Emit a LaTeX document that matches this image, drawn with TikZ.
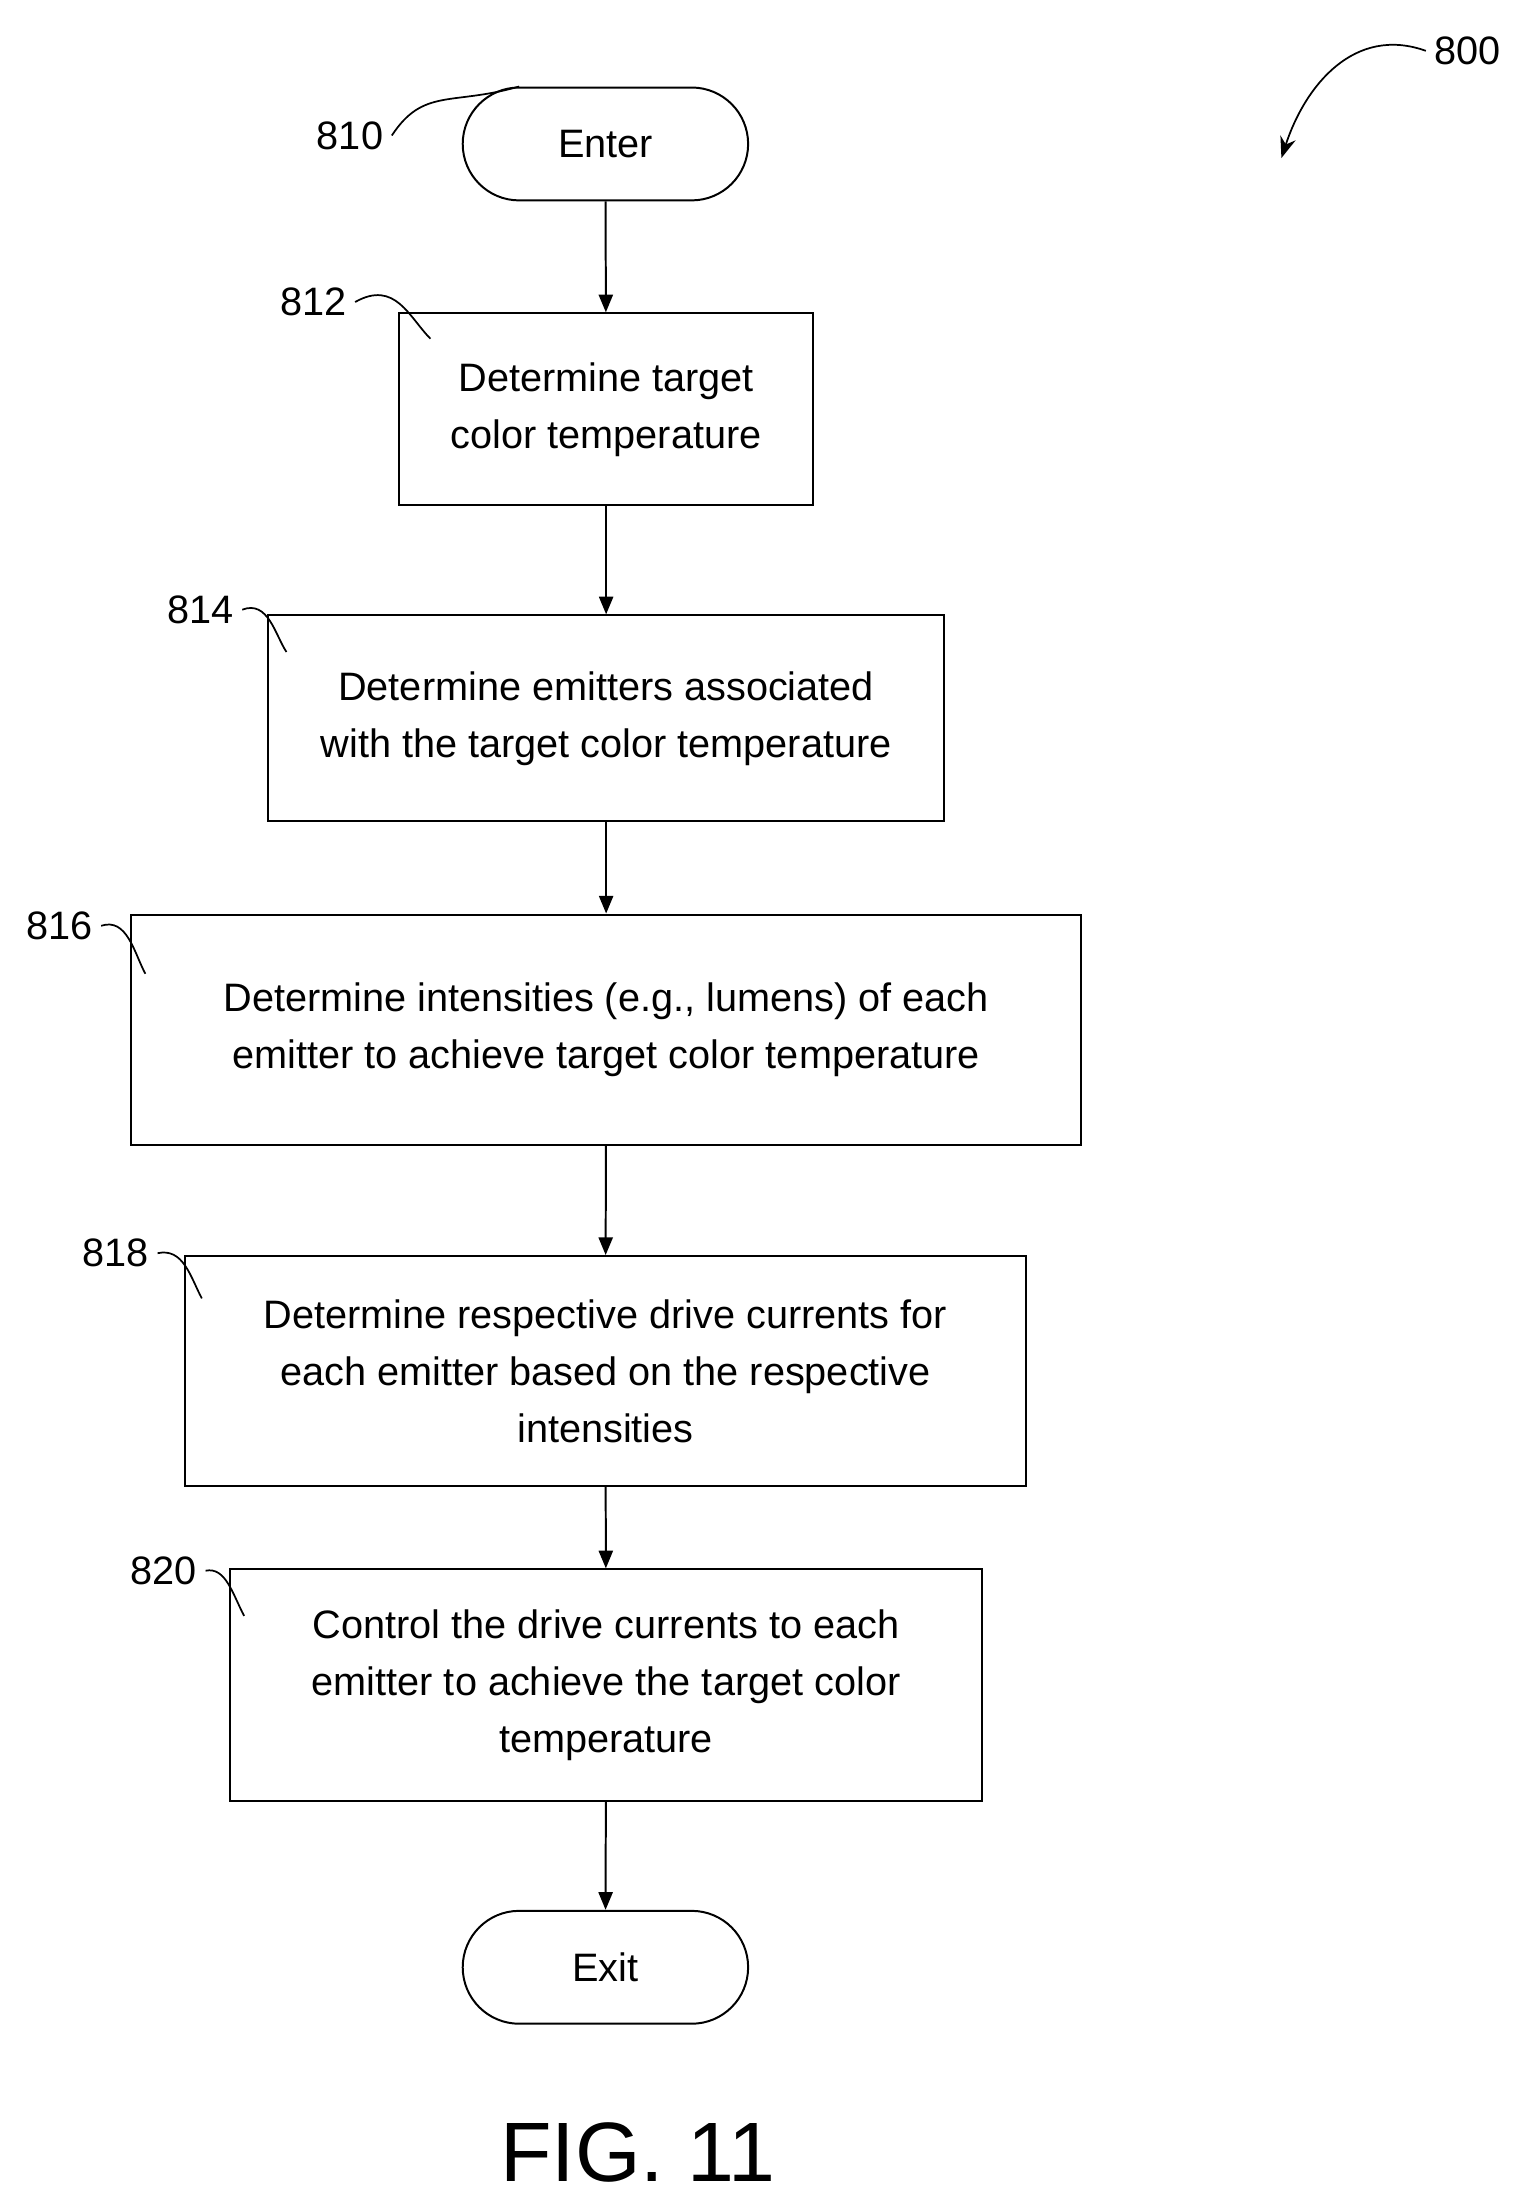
\documentclass[tikz,border=0pt]{standalone}
\usepackage{fontspec}
\setmainfont{Liberation Sans}
\usetikzlibrary{shapes.misc, arrows.meta, positioning}
\tikzset{
  stepbox/.style={rectangle, draw, line width=0.8pt, align=center, inner sep=0pt, font=\fontsize{16}{23}\selectfont},
  termbox/.style={rounded rectangle, draw, line width=0.8pt, minimum width=4.28cm, minimum height=1.6cm, font=\fontsize{16}{20}\selectfont},
  refnum/.style={font=\fontsize{16}{20}\selectfont},
  arr/.style={-{Triangle[length=2.5mm, width=2mm]}, line width=0.8pt},
  lead/.style={line width=0.7pt},
}
\begin{document}
\begin{tikzpicture}[x=0.02cm, y=-0.02cm]
  \useasboundingbox (0,0) rectangle (1080,1566);
  % Terminals and steps
  \node[termbox] (enter) at (429,102) {Enter};
  \node[stepbox, minimum width=5.86cm, minimum height=2.72cm] (s812) at (429.5,290) {Determine target\\color temperature};
  \node[stepbox, minimum width=9.58cm, minimum height=2.92cm] (s814) at (429.5,509) {Determine emitters associated\\with the target color temperature};
  \node[stepbox, minimum width=13.46cm, minimum height=3.26cm] (s816) at (429.5,729.5) {Determine intensities (e.g., lumens) of each\\emitter to achieve target color temperature};
  \node[stepbox, minimum width=11.92cm, minimum height=3.26cm] (s818) at (429,971.5) {Determine respective drive currents for\\each emitter based on the respective\\intensities};
  \node[stepbox, minimum width=10.66cm, minimum height=3.28cm] (s820) at (429.5,1194) {Control the drive currents to each\\emitter to achieve the target color\\temperature};
  \node[termbox] (exit) at (429,1394) {Exit};

  % Flow
  \draw[arr] (enter) -- (s812);
  \draw[arr] (s812) -- (s814);
  \draw[arr] (s814) -- (s816);
  \draw[arr] (s816) -- (s818);
  \draw[arr] (s818) -- (s820);
  \draw[arr] (s820) -- (exit);

  % Reference numerals
  \node[refnum] (r810) at (248,96) {810};
  \node[refnum] (r812) at (222,214) {812};
  \node[refnum] (r814) at (142,432) {814};
  \node[refnum] (r816) at (42,656) {816};
  \node[refnum] (r818) at (82,888) {818};
  \node[refnum] (r820) at (116,1113) {820};
  \node[refnum] (r800) at (1040,36) {800};

  \draw[lead] (r810.east) .. controls (300,62) and (320,75) .. (enter.north west);
  \draw[lead] (r812.east) .. controls (280,198) and (290,225) .. (305,240);
  \draw[lead] (r814.east) .. controls (190,425) and (195,450) .. (203,462);
  \draw[lead] (r816.east) .. controls (90,650) and (95,675) .. (103,690);
  \draw[lead] (r818.east) .. controls (130,884) and (135,905) .. (143,920);
  \draw[lead] (r820.east) .. controls (160,1110) and (165,1130) .. (173,1145);
  \draw[-{Stealth[length=3mm]}, lead] (r800.west) .. controls (960,18) and (925,60) .. (908,112);

  \node[font=\fontsize{34}{40}\selectfont] (fig) at (452,1525) {FIG. 11};
\end{tikzpicture}
\end{document}
